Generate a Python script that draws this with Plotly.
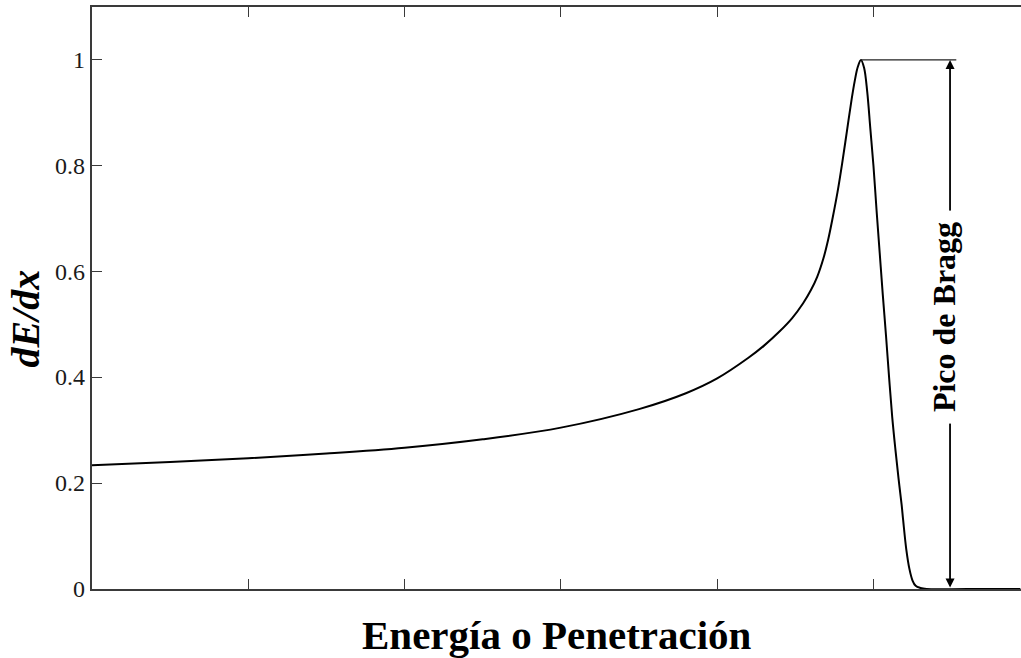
import plotly.graph_objects as go

# Bragg curve: stopping power vs. depth (arbitrary units)
depth = [0.00, 0.50, 1.00, 1.50, 2.00, 2.50, 3.00, 3.50, 3.80, 4.00, 4.20, 4.30,
         4.40, 4.48, 4.55, 4.60, 4.64, 4.68, 4.71, 4.74, 4.77, 4.80, 4.83, 4.86,
         4.88, 4.90, 4.92, 4.94, 4.96, 4.98, 5.00, 5.02, 5.04, 5.06, 5.08, 5.10,
         5.12, 5.14, 5.16, 5.18, 5.19, 5.21, 5.23, 5.25, 5.27, 5.30, 5.34, 5.60, 5.94]
dedx = [0.234, 0.240, 0.247, 0.256, 0.267, 0.283, 0.305, 0.340, 0.370, 0.398, 0.437, 0.460,
        0.487, 0.512, 0.540, 0.565, 0.590, 0.625, 0.660, 0.703, 0.750, 0.805, 0.865, 0.925,
        0.960, 0.987, 1.000, 0.985, 0.940, 0.870, 0.800, 0.715, 0.635, 0.555, 0.480, 0.400,
        0.325, 0.265, 0.210, 0.160, 0.130, 0.075, 0.038, 0.016, 0.006, 0.002, 0.000, 0.000, 0.000]

x_ticks = [0, 1, 2, 3, 4, 5]
y_ticks = [0, 0.2, 0.4, 0.6, 0.8, 1.0]
y_tick_text = ["0", "0.2", "0.4", "0.6", "0.8", "1"]

peak_x = 4.92
peak_y = 1.0
bracket_x = 5.49
bracket_end = 5.53

serif = "Liberation Serif, Times New Roman, serif"
axis_col = "#3a3a3a"

fig = go.Figure()
fig.add_trace(go.Scatter(
    x=depth, y=dedx, mode="lines",
    line=dict(color="black", width=2, shape="spline", smoothing=1.0),
    hoverinfo="skip", showlegend=False,
))

# horizontal guide from the peak to the bracket
fig.add_shape(type="line", xref="x", yref="y",
              x0=peak_x, y0=peak_y, x1=bracket_end, y1=peak_y,
              line=dict(color="#222222", width=1.2))

# double-headed arrow spanning the peak height
fig.add_annotation(
    x=bracket_x, y=peak_y, ax=bracket_x, ay=0,
    xref="x", yref="y", axref="x", ayref="y",
    text="", showarrow=True, arrowhead=2, startarrowhead=2,
    arrowside="end+start", arrowsize=1.0, startarrowsize=1.0,
    arrowwidth=1.8, arrowcolor="black", standoff=0, startstandoff=0,
)

fig.add_annotation(
    x=bracket_x, y=0.514, xref="x", yref="y", xshift=-6,
    text="<b>Pico de Bragg</b>", showarrow=False, textangle=-90,
    font=dict(family=serif, size=32, color="black"),
    bgcolor="white", borderpad=11,
)

# y tick labels, set just left of the axis line
for val, lab in zip(y_ticks, y_tick_text):
    fig.add_annotation(
        x=0, y=val, xref="paper", yref="y", xanchor="right", yanchor="middle",
        xshift=-5, text=lab, showarrow=False,
        font=dict(family=serif, size=24, color="#1a1a1a"),
    )

# axis titles
fig.add_annotation(
    x=(557 - 92) / 929, y=-0.0795, xref="paper", yref="paper",
    text="<b>Energía o Penetración</b>", showarrow=False,
    xanchor="center", yanchor="middle",
    font=dict(family=serif, size=41, color="black"),
)
fig.add_annotation(
    x=-0.0716, y=0.4656, xref="paper", yref="paper",
    text="<b><i>dE/dx</i></b>", showarrow=False, textangle=-90,
    xanchor="center", yanchor="middle",
    font=dict(family=serif, size=40, color="black"),
)

fig.update_layout(
    width=1021, height=658,
    margin=dict(l=92, r=0, t=7, b=69),
    paper_bgcolor="white", plot_bgcolor="white",
    showlegend=False,
)
fig.update_xaxes(
    range=[0, 5.944], tickvals=x_ticks, showticklabels=False,
    ticks="inside", ticklen=10, tickcolor=axis_col, tickwidth=1,
    showline=True, linecolor=axis_col, linewidth=1.5, mirror="ticks",
    showgrid=False, zeroline=False,
)
fig.update_yaxes(
    range=[0, 1.1], tickvals=y_ticks, showticklabels=False,
    ticks="inside", ticklen=10, tickcolor=axis_col, tickwidth=1,
    showline=True, linecolor=axis_col, linewidth=1.5, mirror=False,
    showgrid=False, zeroline=False,
)

fig.write_html("out.html")
